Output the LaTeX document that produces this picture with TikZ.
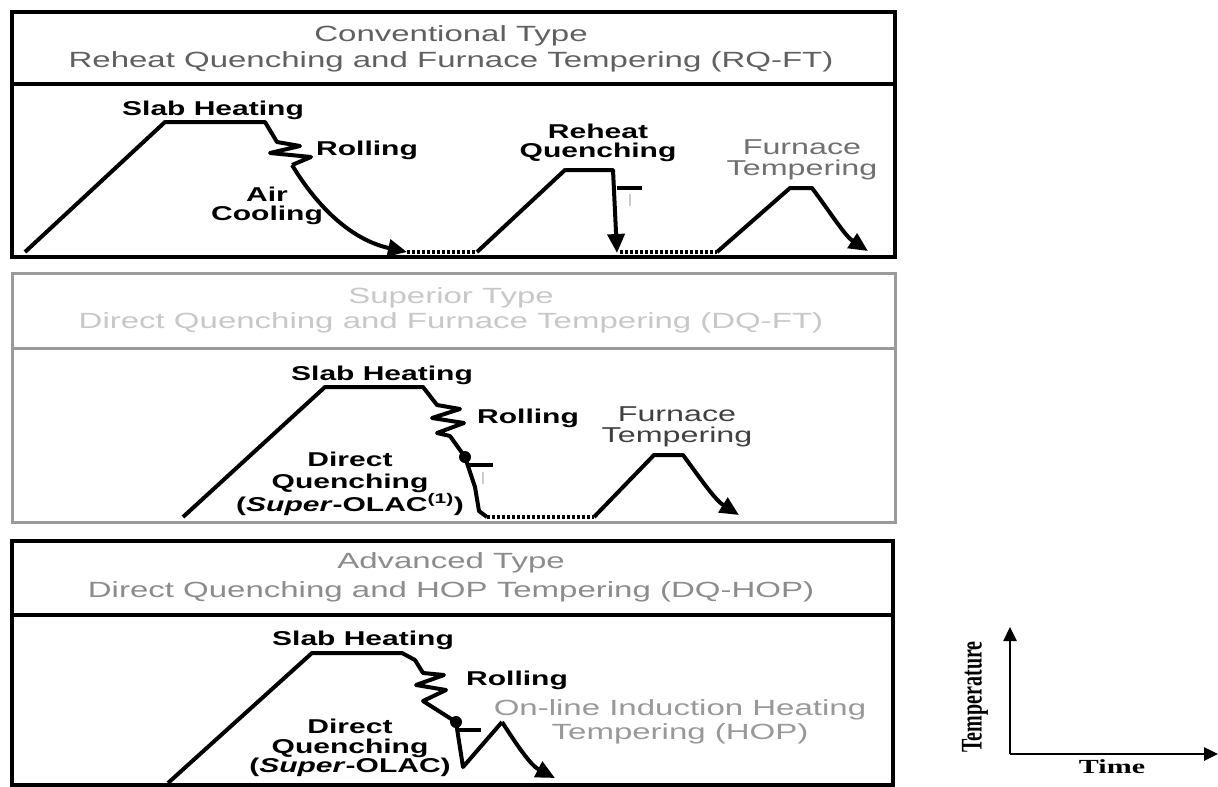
\documentclass[tikz,border=0pt]{standalone}
\usepackage{fontspec}
\setmainfont{Liberation Sans}[FakeStretch=1.5]
\newfontfamily\axisfont{Liberation Serif}[FakeStretch=1.5]
\newfontfamily\axisplain{Liberation Serif}
\usetikzlibrary{arrows.meta}
\definecolor{tgrayA}{HTML}{606060}
\definecolor{tgrayB}{HTML}{C8C8C8}
\definecolor{tgrayC}{HTML}{8C8C8C}
\definecolor{fgrayA}{HTML}{707070}
\definecolor{fgrayB}{HTML}{404040}
\definecolor{fgrayC}{HTML}{999999}
\definecolor{framegray}{HTML}{9A9A9A}
\begin{document}
\begin{tikzpicture}[x=1pt,y=-1pt,
  lbl/.style={font=\fontsize{20}{19.5}\selectfont\bfseries, align=center, inner sep=0pt},
  glbl/.style={font=\fontsize{21.5}{21}\selectfont, align=center, inner sep=0pt},
  ttl/.style={font=\fontsize{22}{24}\selectfont, inner sep=0pt},
  crv/.style={line width=4pt, line join=round},
  dots/.style={line width=4.5pt, dash pattern=on 3pt off 2pt},
  arr/.style={-{Triangle[length=19pt,width=17pt]}},
  axarr/.style={line width=2.5pt,-{Triangle[length=14pt,width=13pt]}},
  frame/.style={line width=4pt},
  divider/.style={line width=3.5pt},
]
\useasboundingbox (0,0) rectangle (1218,787);
\fill[white] (0,0) rectangle (1218,787);

% ---------------- Panel 1 ----------------
\draw[frame] (12,12) rectangle (895,257);
\draw[divider] (12,84) -- (895,84);
\node[ttl, text=tgrayA] (t1a) at (451,36) {Conventional Type};
\node[ttl, text=tgrayA] (t1b) at (451,62) {Reheat Quenching and Furnace Tempering (RQ-FT)};

\draw[crv] (25,252) -- (165,122) -- (265,122) -- (277,142) -- (300,146) -- (270,153)
  -- (311,157) -- (292,165);
\draw[crv, arr] (292,165) .. controls (318,208) and (352,240) .. (407,252);
\draw[dots] (407,252) -- (477,252);
\draw[crv, arr] (477,252) -- (565,170) -- (613,170) -- (617,253);
\draw[line width=3.5pt] (617,188) -- (642,188);
\draw[line width=1.5pt, black!20] (630,194) -- (630,206);
\draw[dots] (620,252) -- (717,252);
\draw[crv, arr] (717,252) -- (790,188) -- (812,188) .. controls (830,212) and (845,236) .. (868,251);

\node[lbl] (sh1) at (213,110) {Slab Heating};
\node[lbl] (ro1) at (367,150) {Rolling};
\node[lbl] (ac1) at (267,206) {Air\\Cooling};
\node[lbl] (rq1) at (598,143) {Reheat\\Quenching};
\node[glbl, text=fgrayA] (ft1) at (802,160) {Furnace\\Tempering};

% ---------------- Panel 2 ----------------
\draw[line width=3pt, framegray] (12,273) rectangle (895,522);
\draw[line width=3pt, framegray] (12,348) -- (895,348);
\node[ttl, text=tgrayB] (t2a) at (451,298) {Superior Type};
\node[ttl, text=tgrayB] (t2b) at (451,323) {Direct Quenching and Furnace Tempering (DQ-FT)};

\draw[crv] (183,517) -- (325,387) -- (423,387) -- (437,405) -- (460,409) -- (432,418)
  -- (464,423) -- (437,433) -- (450,436) -- (465,457) -- (475,487) -- (479,511) -- (487,517);
\fill (465,457) circle (6);
\draw[line width=3.5pt] (467,465) -- (493,465);
\draw[line width=1.5pt, black!20] (483,472) -- (483,484);
\draw[dots] (487,517) -- (594,517);
\draw[crv, arr] (594,517) -- (654,455) -- (683,455) .. controls (700,478) and (715,500) .. (739,515);

\node[lbl] (sh2) at (382,375) {Slab Heating};
\node[lbl] (ro2) at (528,418) {Rolling};
\node[lbl, font=\fontsize{20}{21.5}\selectfont\bfseries] (dq2) at (350,484)
  {Direct\\Quenching\\(\textit{Super}-OLAC\textsuperscript{(1)})};
\node[glbl, text=fgrayB] (ft2) at (677,427) {Furnace\\Tempering};

% ---------------- Panel 3 ----------------
\draw[frame] (12,541) rectangle (893,785);
\draw[divider] (12,615) -- (893,615);
\node[ttl, text=tgrayC] (t3a) at (451,563) {Advanced Type};
\node[ttl, text=tgrayC] (t3b) at (451,592) {Direct Quenching and HOP Tempering (DQ-HOP)};

\draw[crv] (168,783) -- (312,653) -- (402,653) -- (415,660) -- (423,673) -- (444,675) -- (416,685)
  -- (446,690) -- (423,701) -- (456,722) -- (463,767) -- (502,722);
\draw[crv, arr] (502,722) .. controls (515,742) and (530,765) .. (555,778);
\fill (456,722) circle (6);
\draw[line width=3.5pt] (459,730) -- (481,730);

\node[lbl] (sh3) at (363,640) {Slab Heating};
\node[lbl] (ro3) at (517,680) {Rolling};
\node[lbl] (dq3) at (350,748) {Direct\\Quenching\\(\textit{Super}-OLAC)};
\node[glbl, text=fgrayC, font=\fontsize{22}{24}\selectfont] (hop) at (680,722)
  {On-line Induction Heating\\Tempering (HOP)};

% ---------------- Axes ----------------
\coordinate (O) at (1010,754);
\coordinate (Ty) at (1010,627);
\coordinate (Tx) at (1218,754);
\draw[axarr] (O) -- (Ty);
\draw[axarr] (O) -- (Tx);
\node[inner sep=0pt] (temp) at (975,697)
  {\scalebox{1.5}[1]{\rotatebox{90}{\axisplain\fontsize{20}{20}\selectfont\bfseries Temperature}}};
\node[inner sep=0pt, font=\axisfont\fontsize{20}{20}\selectfont\bfseries] (time) at (1112,767) {Time};
\end{tikzpicture}
\end{document}
